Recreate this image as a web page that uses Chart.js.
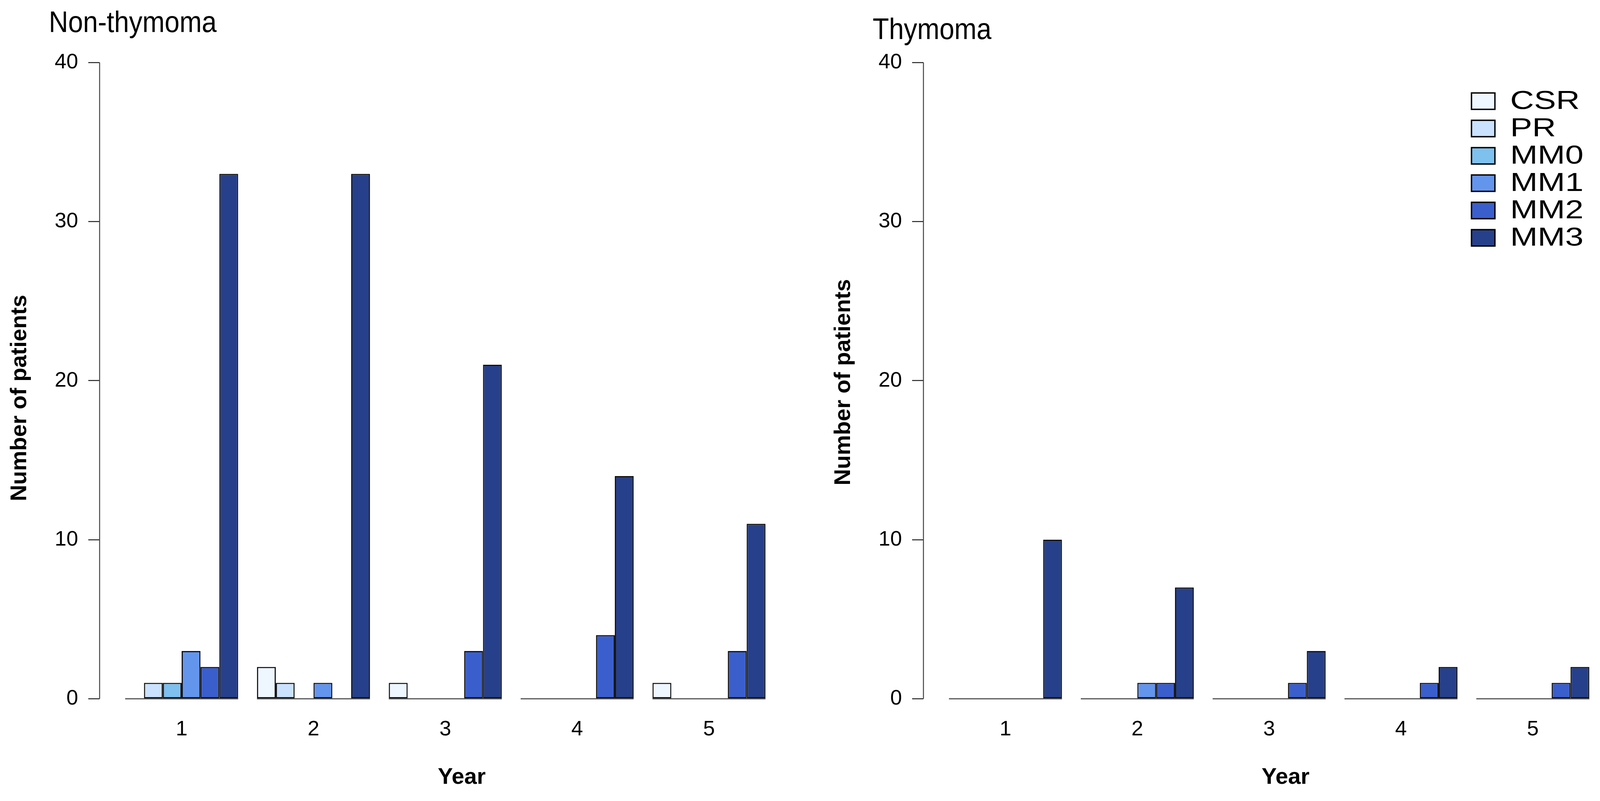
<!DOCTYPE html>
<html>
<head>
<meta charset="utf-8">
<title>Patients by grade and year</title>
<script src="https://cdn.jsdelivr.net/npm/chart.js@4.4.1/dist/chart.umd.min.js"></script>
<style>
  html, body { margin: 0; padding: 0; background: #fff; overflow: hidden; }
  .page { width: 4142px; height: 2051px; overflow: hidden; position: relative; }
  .row { display: flex; width: 4218px; height: 2051px; }
  .panel { position: relative; flex: none; width: 2109px; height: 2051px; }
</style>
</head>
<body>
<div class="page">
  <div class="row">
    <div class="panel"><canvas id="nonThymomaChart"></canvas></div>
    <div class="panel"><canvas id="thymomaChart"></canvas></div>
  </div>
</div>
<script>
const years = [1, 2, 3, 4, 5]
const grades = ['CSR', 'PR', 'MM0', 'MM1', 'MM2', 'MM3']
const yTicks = [0, 10, 20, 30, 40]

// Non-thymoma: patients per grade, years 1..5
const nonCSR = [0, 2, 1, 0, 1]
const nonPR  = [1, 1, 0, 0, 0]
const nonMM0 = [1, 0, 0, 0, 0]
const nonMM1 = [3, 1, 0, 0, 0]
const nonMM2 = [2, 0, 3, 4, 3]
const nonMM3 = [33, 33, 21, 14, 11]

// Thymoma: patients per grade, years 1..5
const thyCSR = [0, 0, 0, 0, 0]
const thyPR  = [0, 0, 0, 0, 0]
const thyMM0 = [0, 0, 0, 0, 0]
const thyMM1 = [0, 1, 0, 0, 0]
const thyMM2 = [0, 1, 1, 1, 1]
const thyMM3 = [10, 7, 3, 2, 2]

const gradeColors = ['#EEF6FF', '#CAE1FF', '#7EC0EE', '#6495ED', '#3A5FCD', '#27408B']
const FONT = "'Liberation Sans', Arial, Helvetica, sans-serif"

// R style: y axis line only from 0 to 40, and a line under every group (zero bars)
const baseAxisPlugin = {
  id: 'baseAxis',
  beforeDatasetsDraw(chart) {
    const { ctx } = chart
    const y0 = chart.scales.y.getPixelForValue(0)
    const metas = chart.getSortedVisibleDatasetMetas()
    ctx.save()
    ctx.strokeStyle = '#555'
    ctx.lineWidth = 3
    years.forEach((_, i) => {
      let left = Infinity, right = -Infinity
      metas.forEach(meta => {
        const bar = meta.data[i]
        if (!bar) return
        const { x, width } = bar.getProps(['x', 'width'], true)
        left = Math.min(left, x - width / 2)
        right = Math.max(right, x + width / 2)
      })
      ctx.beginPath()
      ctx.moveTo(left, y0)
      ctx.lineTo(right, y0)
      ctx.stroke()
    })
    ctx.restore()
  },
  afterDraw(chart) {
    const { ctx, chartArea } = chart
    const yScale = chart.scales.y
    ctx.save()
    ctx.strokeStyle = '#444'
    ctx.lineWidth = 2.5
    ctx.beginPath()
    ctx.moveTo(chartArea.left, yScale.getPixelForValue(yTicks[0]))
    ctx.lineTo(chartArea.left, yScale.getPixelForValue(yTicks[yTicks.length - 1]))
    ctx.stroke()
    ctx.restore()
  }
}

// panel title, left aligned, slightly condensed like the original
const panelTitlePlugin = {
  id: 'panelTitle',
  afterDraw(chart, args, opts) {
    const { ctx } = chart
    ctx.save()
    ctx.fillStyle = '#000'
    ctx.font = `${opts.size}px ${FONT}`
    ctx.textAlign = 'left'
    ctx.textBaseline = 'alphabetic'
    ctx.translate(opts.x, opts.y)
    ctx.scale(opts.stretch, 1)
    ctx.fillText(opts.text, 0, 0)
    ctx.restore()
  }
}

const boxLegendPlugin = {
  id: 'boxLegend',
  afterDraw(chart, args, opts) {
    if (!opts.show) return
    const { ctx } = chart
    ctx.save()
    ctx.font = `${opts.size}px ${FONT}`
    ctx.textAlign = 'left'
    ctx.textBaseline = 'middle'
    chart.data.datasets.forEach((ds, i) => {
      const top = opts.y + i * opts.step
      ctx.fillStyle = ds.backgroundColor
      ctx.fillRect(opts.x, top, opts.boxW, opts.boxH)
      ctx.strokeStyle = '#000'
      ctx.lineWidth = 3.5
      ctx.strokeRect(opts.x, top, opts.boxW, opts.boxH)
      ctx.save()
      ctx.fillStyle = '#000'
      ctx.translate(opts.textX, top + opts.boxH / 2 + 2)
      ctx.scale(opts.stretch, 1)
      ctx.fillText(ds.label, 0, 0)
      ctx.restore()
    })
    ctx.restore()
  }
}

function makeChart(id, title, titleY, yTitle, series, showLegend) {
  const ctx = document.getElementById(id).getContext('2d')
  return new Chart(ctx, {
    type: 'bar',
    data: {
      labels: years,
      datasets: grades.map((g, i) => ({
        label: g,
        data: series[i],
        backgroundColor: gradeColors[i],
        borderColor: '#111',
        borderWidth: 3,
        borderSkipped: false,
        categoryPercentage: 6 / 7,
        barPercentage: 1
      }))
    },
    options: {
      responsive: true,
      maintainAspectRatio: false,
      animation: false,
      layout: { padding: { top: 95, left: 0, right: 0, bottom: 0 } },
      plugins: {
        legend: { display: false },
        tooltip: { enabled: false },
        panelTitle: { text: title, x: 125, y: titleY, size: 76, stretch: 0.9 },
        boxLegend: { show: showLegend, x: 1658, y: 238, step: 70, boxW: 60, boxH: 42, textX: 1757, size: 66, stretch: 1.28 }
      },
      scales: {
        x: {
          type: 'linear',
          min: 0.3778,
          max: 5.871,
          offset: false,
          afterBuildTicks: (s) => { s.ticks = years.map(v => ({ value: v })) },
          afterFit: (s) => { s.height = 221 },
          grid: { display: false, drawTicks: false },
          border: { display: false },
          ticks: {
            color: '#000',
            padding: 6,
            font: { family: FONT, size: 54 },
            callback: (v) => String(v)
          },
          title: {
            display: true,
            text: 'Year',
            color: '#000',
            font: { family: FONT, size: 58, weight: 'bold' },
            padding: { top: 0, bottom: 25 }
          }
        },
        y: {
          min: -1,
          max: 41.6,
          afterBuildTicks: (s) => { s.ticks = yTicks.map(v => ({ value: v })) },
          afterFit: (s) => { s.width = 255 },
          grid: { drawOnChartArea: false, drawTicks: true, tickLength: 29, color: '#222', lineWidth: 2.5 },
          border: { display: false },
          ticks: {
            color: '#000',
            padding: 26,
            font: { family: FONT, size: 54 }
          },
          title: {
            display: true,
            text: yTitle,
            color: '#000',
            font: { family: FONT, size: 58, weight: 'bold' },
            padding: { top: 16, bottom: 0 }
          }
        }
      }
    },
    plugins: [baseAxisPlugin, panelTitlePlugin, boxLegendPlugin]
  })
}

// trailing spaces nudge the axis titles down a little, as in the original
makeChart('nonThymomaChart', 'Non-thymoma', 82, 'Number of patients       ',
  [nonCSR, nonPR, nonMM0, nonMM1, nonMM2, nonMM3], false)
makeChart('thymomaChart', 'Thymoma', 100, 'Number of patients  ',
  [thyCSR, thyPR, thyMM0, thyMM1, thyMM2, thyMM3], true)
</script>
</body>
</html>
